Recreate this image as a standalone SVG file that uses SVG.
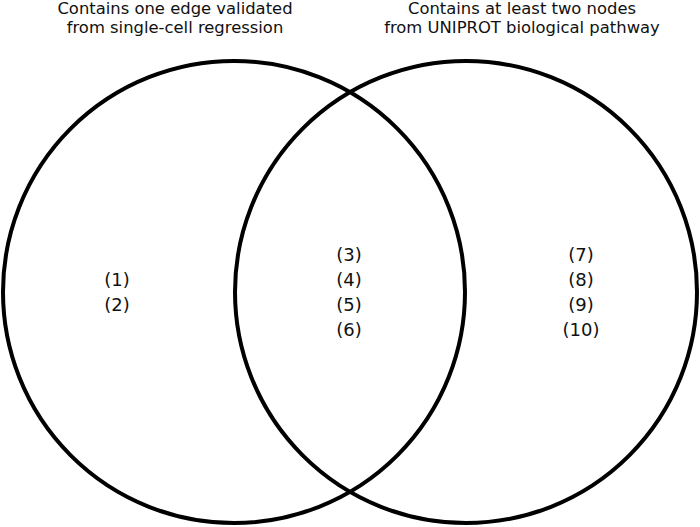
<svg xmlns="http://www.w3.org/2000/svg" width="700" height="527" viewBox="0 0 700 527">
<style>
.c{fill:none;stroke:#000;stroke-width:4}
.t{font-family:"DejaVu Sans",sans-serif;font-size:16.4px;fill:#111;text-anchor:middle}
.n{font-family:"DejaVu Sans",sans-serif;font-size:18px;fill:#111;text-anchor:middle}
</style>
<rect width="700" height="527" fill="#fff"/>
<g id="setA">
<circle class="c" cx="234" cy="292" r="231"/>
<text class="t" x="175" y="14">Contains one edge validated</text>
<text class="t" x="175" y="33">from single-cell regression</text>
</g>
<g id="setB">
<circle class="c" cx="466" cy="292" r="231"/>
<text class="t" x="522" y="14">Contains at least two nodes</text>
<text class="t" x="522" y="33">from UNIPROT biological pathway</text>
</g>
<g id="onlyA">
<text class="n" x="117" y="286">(1)</text>
<text class="n" x="117" y="311">(2)</text>
</g>
<g id="both">
<text class="n" x="349" y="261">(3)</text>
<text class="n" x="349" y="286">(4)</text>
<text class="n" x="349" y="311">(5)</text>
<text class="n" x="349" y="336">(6)</text>
</g>
<g id="onlyB">
<text class="n" x="581" y="261">(7)</text>
<text class="n" x="581" y="286">(8)</text>
<text class="n" x="581" y="311">(9)</text>
<text class="n" x="581" y="336">(10)</text>
</g>
<g id="connectors"></g>
</svg>
